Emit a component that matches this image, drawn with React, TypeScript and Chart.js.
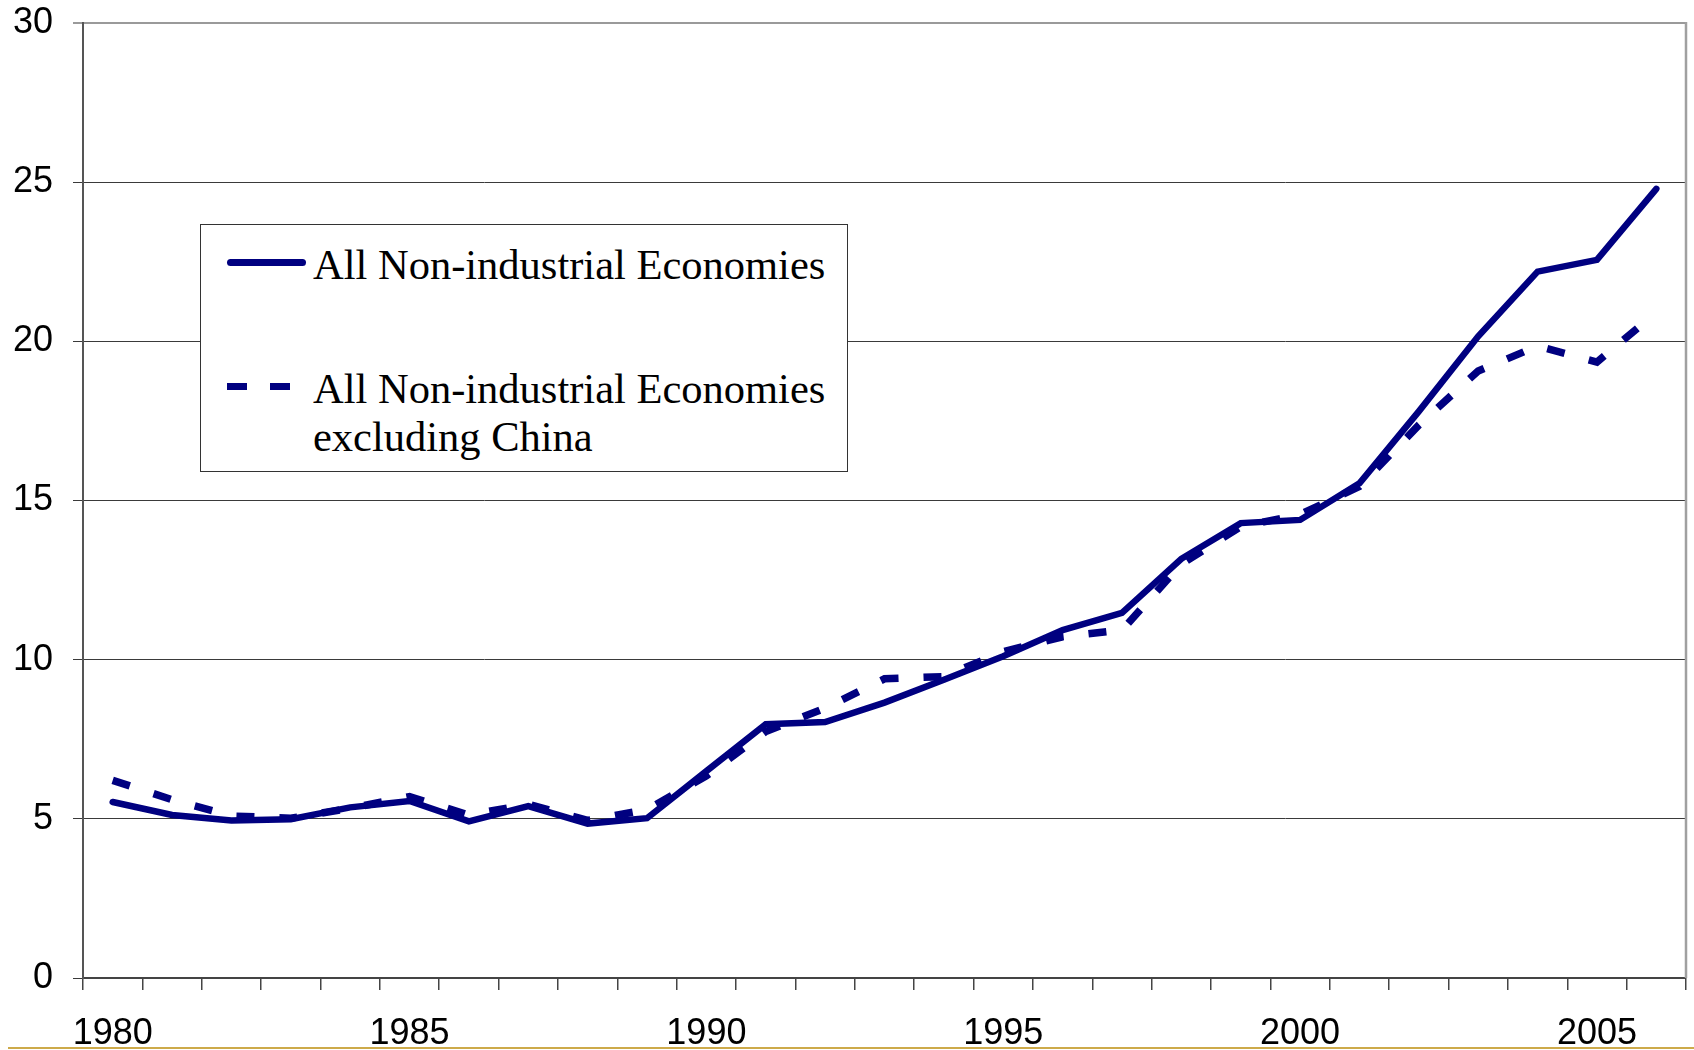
import React, { useEffect, useRef } from "react";
import { Chart, registerables } from "chart.js";

Chart.register(...registerables);

const years = [
  1980, 1981, 1982, 1983, 1984, 1985, 1986, 1987, 1988, 1989,
  1990, 1991, 1992, 1993, 1994, 1995, 1996, 1997, 1998, 1999,
  2000, 2001, 2002, 2003, 2004, 2005, 2006,
];

const allNonIndustrial = [
  5.53, 5.12, 4.95, 4.99, 5.36, 5.56, 4.92, 5.4, 4.85, 5.02,
  6.5, 7.97, 8.04, 8.65, 9.37, 10.11, 10.93, 11.47, 13.17, 14.29,
  14.39, 15.54, 17.8, 20.16, 22.19, 22.56, 24.79,
];

const excludingChina = [
  6.21, 5.6, 5.09, 5.02, 5.33, 5.7, 5.12, 5.46, 4.95, 5.29,
  6.35, 7.74, 8.48, 9.4, 9.47, 10.25, 10.72, 10.93, 13.0, 14.18,
  14.56, 15.44, 17.37, 19.07, 19.85, 19.35, 20.9,
];

const yTicks = [0, 5, 10, 15, 20, 25, 30];

const solidLabel = ["All Non-industrial Economies"];
const dashedLabel = ["All Non-industrial Economies", "excluding China"];

const NAVY = "#000080";

const rightBorder = {
  id: "rightBorder",
  afterDatasetsDraw(chart: any) {
    const { ctx, chartArea } = chart;
    ctx.save();
    ctx.strokeStyle = "#a0a0a0";
    ctx.lineWidth = 2.5;
    ctx.beginPath();
    ctx.moveTo(chartArea.right, chartArea.top - 1);
    ctx.lineTo(chartArea.right, chartArea.bottom);
    ctx.stroke();
    ctx.restore();
  },
};

export default function App() {
  const canvasRef = useRef<HTMLCanvasElement | null>(null);

  useEffect(() => {
    if (!canvasRef.current) return;
    const chart = new Chart(canvasRef.current, {
      type: "line",
      data: {
        labels: years.map(String),
        datasets: [
          {
            label: solidLabel.join(" "),
            data: allNonIndustrial,
            borderColor: NAVY,
            backgroundColor: NAVY,
            borderWidth: 6.5,
            borderCapStyle: "round",
            borderJoinStyle: "miter",
            pointRadius: 0,
            tension: 0,
            fill: false,
          },
          {
            label: dashedLabel.join(" "),
            data: excludingChina,
            borderColor: NAVY,
            backgroundColor: NAVY,
            borderWidth: 7.5,
            borderDash: [18, 25],
            borderCapStyle: "butt",
            pointRadius: 0,
            tension: 0,
            fill: false,
          },
        ],
      },
      options: {
        animation: false,
        responsive: false,
        maintainAspectRatio: false,
        layout: { padding: { top: 23, right: 8, left: 0, bottom: 0 } },
        plugins: {
          legend: { display: false },
          tooltip: { enabled: false },
        },
        scales: {
          x: {
            type: "category",
            offset: true,
            grid: {
              offset: true,
              drawOnChartArea: false,
              drawTicks: true,
              tickLength: 12,
              color: "#444",
              lineWidth: 1.5,
            },
            border: { color: "#444", width: 2 },
            ticks: {
              autoSkip: false,
              maxRotation: 0,
              minRotation: 0,
              padding: 22,
              color: "#000",
              font: { family: "'Liberation Sans', Arial, sans-serif", size: 36 },
              callback: (_v: any, i: number) =>
                years[i] % 5 === 0 ? String(years[i]) : "",
            },
            afterFit: (scale: any) => {
              scale.height = 72;
            },
          },
          y: {
            min: 0,
            max: 30,
            afterBuildTicks: (scale: any) => {
              scale.ticks = yTicks.map((v) => ({ value: v }));
            },
            grid: {
              drawTicks: true,
              tickLength: 10,
              color: (c: any) => (c.tick && c.tick.value === 30 ? "#9a9a9a" : "#3a3a3a"),
              lineWidth: (c: any) => (c.tick && c.tick.value === 30 ? 2 : 1),
            },
            border: { color: "#555", width: 2 },
            ticks: {
              padding: 20,
              color: "#000",
              font: { family: "'Liberation Sans', Arial, sans-serif", size: 36 },
            },
            afterFit: (scale: any) => {
              scale.width = 83;
              scale.paddingTop = 0;
              scale.paddingBottom = 0;
            },
          },
        },
      },
      plugins: [rightBorder],
    } as any);
    return () => chart.destroy();
  }, []);

  const serif = "'Liberation Serif', 'Times New Roman', serif";

  return (
    <div
      style={{
        position: "fixed",
        left: 0,
        top: 0,
        width: 1694,
        height: 1050,
        background: "#fff",
        overflow: "hidden",
      }}
    >
      <canvas
        ref={canvasRef}
        width={1694}
        height={1050}
        style={{ position: "absolute", left: 0, top: 0, width: 1694, height: 1050 }}
      />
      <div
        style={{
          position: "absolute",
          left: 200,
          top: 224,
          width: 646,
          height: 246,
          border: "1px solid #333",
          background: "#fff",
          fontFamily: serif,
          fontSize: 42.5,
          lineHeight: "48px",
          color: "#000",
        }}
      >
        <div
          style={{
            position: "absolute",
            left: 26,
            top: 34,
            width: 79,
            height: 7,
            borderRadius: 3.5,
            background: NAVY,
          }}
        />
        <div style={{ position: "absolute", left: 112, top: 16, whiteSpace: "nowrap" }}>
          {solidLabel.map((l, i) => (
            <div key={i}>{l}</div>
          ))}
        </div>
        <div
          style={{ position: "absolute", left: 26, top: 158, width: 20, height: 7, background: NAVY }}
        />
        <div
          style={{ position: "absolute", left: 69, top: 158, width: 20, height: 7, background: NAVY }}
        />
        <div style={{ position: "absolute", left: 112, top: 140, whiteSpace: "nowrap" }}>
          {dashedLabel.map((l, i) => (
            <div key={i}>{l}</div>
          ))}
        </div>
      </div>
      <div
        style={{
          position: "absolute",
          left: 8,
          right: 0,
          top: 1047,
          height: 2,
          background: "#CDAA4A",
        }}
      />
    </div>
  );
}
